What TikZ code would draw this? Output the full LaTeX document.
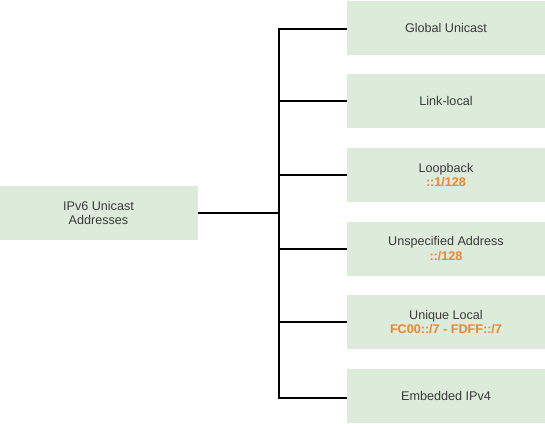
\documentclass[tikz,border=0pt]{standalone}
\usepackage{fontspec}
\setmainfont{Liberation Sans}
\definecolor{boxgreen}{HTML}{DCEBDA}
\definecolor{txtgray}{HTML}{3A3A3A}
\definecolor{addrorange}{HTML}{F5822A}
\begin{document}
\begin{tikzpicture}[x=1pt,y=-1pt,
  box/.style={fill=boxgreen,draw=none,minimum width=198pt,minimum height=54pt,inner sep=0pt,
    align=center,font=\fontsize{12.6}{14.5}\selectfont,text=txtgray,anchor=center},
  conn/.style={line width=2pt,black}]
\useasboundingbox (0,0) rectangle (545,423);
\node[box] (root) at (98.5,213) {IPv6 Unicast\\Addresses};
\node[box] (gu) at (446,27.5) {Global Unicast};
\node[box] (ll) at (446,101) {Link-local};
\node[box] (lb) at (446,175) {Loopback\\\textcolor{addrorange}{\bfseries ::1/128}};
\node[box] (ua) at (446,248.5) {Unspecified Address\\\textcolor{addrorange}{\bfseries ::/128}};
\node[box] (ul) at (446,322) {Unique Local\\\textcolor{addrorange}{\bfseries FC00::/7 - FDFF::/7}};
\node[box] (ei) at (446,396) {Embedded IPv4};
\coordinate (top) at (279,29);
\coordinate (bot) at (279,398);
\draw[conn] (root.east) -- (root.east -| top);
\draw[conn] (gu.west |- top) -- (top) -- (bot) -- (ei.west |- bot);
\draw[conn] (ll.west) -- (ll.west -| top);
\draw[conn] (lb.west) -- (lb.west -| top);
\draw[conn] (ua.west) -- (ua.west -| top);
\draw[conn] (ul.west) -- (ul.west -| top);
\end{tikzpicture}
\end{document}
